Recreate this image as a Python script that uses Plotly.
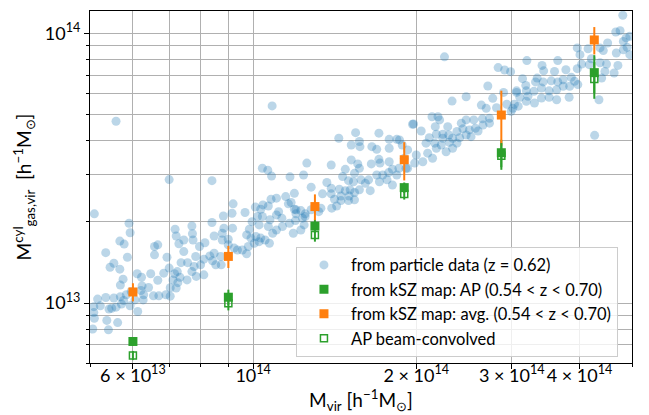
import numpy as np
import plotly.graph_objects as go

# ---- particle-data halos: log10 M_vir and log10 M_gas,vir^cyl  [h^-1 Msun] ----
log_mvir = [
13.707,13.771,13.773,13.754,13.762,13.728,13.768,13.743,13.736,13.754,13.760,13.755,13.786,13.794,13.795,13.793,
13.798,13.797,13.807,13.811,13.824,13.816,13.826,13.839,13.847,13.847,13.835,13.855,13.861,13.865,13.867,13.879,
13.878,13.852,13.858,13.841,13.818,13.824,13.818,13.856,13.858,13.863,13.872,13.713,13.728,13.743,13.755,13.766,
13.775,13.706,13.718,13.734,13.747,13.757,13.773,13.787,13.706,13.707,13.730,13.750,13.704,13.733,13.739,13.761,
13.782,13.845,13.860,13.872,13.747,13.845,
13.924,13.985,13.945,13.961,13.924,13.887,13.963,14.004,14.014,14.018,14.028,14.043,14.060,14.076,14.065,14.079,
14.088,14.096,14.047,14.043,14.053,14.031,14.017,14.008,13.998,14.011,14.028,14.036,14.043,14.054,14.067,14.078,
14.091,14.074,14.088,13.993,13.988,13.996,14.005,14.014,14.022,14.030,14.011,14.002,13.991,13.988,13.971,13.965,
13.980,13.946,13.962,13.943,13.928,13.943,13.954,13.954,13.911,13.889,13.888,13.901,13.894,13.909,13.920,13.925,
13.940,13.941,13.891,13.903,13.887,13.895,13.909,13.931,13.928,14.035,14.017,14.027,14.034,14.068,14.093,14.099,
14.107,14.033,
14.158,14.189,14.181,14.196,14.197,14.232,14.251,14.265,14.219,14.228,14.251,14.275,14.144,14.181,14.193,14.196,
14.218,14.232,14.234,14.251,14.257,14.269,14.282,14.170,14.187,14.165,14.176,14.185,14.199,14.207,14.213,14.228,
14.239,14.250,14.265,14.233,14.247,14.257,14.136,14.144,14.159,14.170,14.179,14.187,14.196,14.216,14.128,14.144,
14.162,14.177,14.176,14.187,14.150,14.162,14.154,14.145,14.070,14.076,14.079,14.096,14.107,14.125,14.121,14.094,
14.294,14.353,
14.452,14.464,14.475,14.433,14.462,14.486,14.393,14.367,14.421,14.442,14.449,14.468,14.482,14.430,14.479,14.330,
14.341,14.344,14.296,14.310,14.336,14.359,14.384,14.393,14.407,14.423,14.436,14.424,14.436,14.410,14.399,14.387,
14.376,14.361,14.350,14.338,14.325,14.350,14.368,14.381,14.393,14.402,14.415,14.319,14.335,14.347,14.362,14.376,
14.368,14.356,14.338,14.322,14.331,14.313,14.298,14.301,14.285,14.279,14.285,14.270,
14.682,14.677,14.669,14.688,14.695,14.683,14.654,14.640,14.646,14.618,14.598,14.670,14.683,14.690,14.695,14.562,
14.505,14.533,14.536,14.556,14.577,14.603,14.606,14.624,14.620,14.598,14.652,14.673,14.649,14.666,14.643,14.497,
14.524,14.503,14.521,14.535,14.550,14.562,14.572,14.587,14.593,14.599,14.584,14.572,14.560,14.546,14.532,14.518,
14.504,14.486,14.492,14.507,14.519,14.532,14.546,14.560,14.583,14.489,14.476,14.504,14.638,14.630,14.640,
]
log_mgas = [
13.331,13.296,13.261,13.230,13.219,13.187,13.170,13.148,13.133,13.126,13.089,13.067,13.109,13.096,13.064,13.047,
13.031,13.012,13.058,13.109,13.085,13.027,13.027,13.031,13.057,13.026,13.111,13.109,13.076,13.096,13.150,13.150,
13.086,13.086,13.056,13.170,13.210,13.216,13.179,13.274,13.249,13.220,13.234,13.015,13.021,13.019,13.024,13.031,
13.043,12.987,12.990,12.978,12.985,12.997,12.990,12.969,12.965,12.944,12.936,12.928,12.904,12.901,12.981,13.010,
13.012,13.130,13.117,13.191,13.674,13.458,
13.454,13.336,13.323,13.333,13.299,13.286,13.368,13.356,13.348,13.364,13.360,13.389,13.395,13.407,13.368,13.346,
13.343,13.331,13.339,13.327,13.315,13.309,13.321,13.321,13.302,13.290,13.284,13.259,13.271,13.284,13.296,13.306,
13.315,13.259,13.271,13.274,13.253,13.241,13.247,13.241,13.234,13.222,13.228,13.222,13.210,13.183,13.197,13.204,
13.197,13.278,13.278,13.259,13.249,13.234,13.237,13.216,13.224,13.234,13.257,13.210,13.173,13.163,13.175,13.157,
13.173,13.142,13.136,13.142,13.117,13.099,13.105,13.142,13.185,13.731,13.500,13.493,13.471,13.468,13.475,13.519,
13.430,13.385,
13.611,13.632,13.586,13.599,13.580,13.630,13.607,13.607,13.580,13.570,13.574,13.586,13.512,13.531,13.516,13.500,
13.516,13.533,13.519,13.524,13.496,13.500,13.500,13.496,13.481,13.469,13.454,13.450,13.457,13.444,13.457,13.475,
13.475,13.484,13.475,13.450,13.457,13.438,13.447,13.426,13.422,13.417,13.420,13.410,13.420,13.417,13.405,13.405,
13.397,13.397,13.380,13.383,13.385,13.380,13.360,13.352,13.373,13.348,13.331,13.321,13.346,13.352,13.339,13.290,
13.663,13.913,
13.873,13.864,13.858,13.805,13.781,13.781,13.765,13.749,13.734,13.759,13.724,13.737,13.737,13.722,13.722,13.691,
13.691,13.679,13.664,13.638,13.654,13.654,13.667,13.679,13.679,13.683,13.685,13.660,13.667,13.648,13.642,13.646,
13.636,13.623,13.626,13.626,13.613,13.611,13.611,13.613,13.623,13.617,13.638,13.593,13.593,13.586,13.596,13.593,
13.574,13.561,13.574,13.556,13.537,13.524,13.519,13.549,13.568,13.537,13.500,13.605,
14.067,14.010,14.005,13.983,13.989,13.970,13.964,13.946,13.936,13.943,13.946,13.927,13.939,13.948,13.921,13.899,
13.899,13.881,13.861,13.859,13.865,13.921,13.886,13.906,13.884,13.869,13.886,13.881,13.859,13.853,13.834,13.832,
13.834,13.807,13.820,13.820,13.824,13.820,13.828,13.837,13.822,13.810,13.804,13.804,13.791,13.787,13.797,13.785,
13.787,13.787,13.763,13.767,13.742,13.760,13.763,13.754,13.763,13.730,13.711,13.748,13.754,13.622,13.891,
]

# ---- kSZ-map bins ----
bin_mvir = [6.0e13, 9.0e13, 1.30e14, 1.90e14, 2.87e14, 4.26e14]
avg_m = [1.10e13, 1.49e13, 2.28e13, 3.40e13, 4.98e13, 9.45e13]
avg_err = [0.085e13, 0.14e13, 0.25e13, 0.55e13, 1.15e13, 1.10e13]
ap_m = [0.721e13, 1.052e13, 1.93e13, 2.68e13, 3.61e13, 7.15e13]
ap_err = [0.027e13, 0.07e13, 0.11e13, 0.12e13, 0.42e13, 1.15e13]
apb_m = [0.640e13, 1.00e13, 1.79e13, 2.54e13, 3.52e13, 6.77e13]
apb_err = [0.025e13, 0.06e13, 0.10e13, 0.12e13, 0.40e13, 1.05e13]

# ---- axis ticks ----
x_tickvals = [6e13, 1e14, 2e14, 3e14, 4e14]
x_ticktext = ["6 × 10<sup>13</sup>", "10<sup>14</sup>", "2 × 10<sup>14</sup>", "3 × 10<sup>14</sup>", "4 × 10<sup>14</sup>"]
x_minor = [5e13, 7e13, 8e13, 9e13, 5e14]
y_tickvals = [1e13, 1e14]
y_ticktext = ["10<sup>13</sup>", "10<sup>14</sup>"]
y_minor = [6e12, 7e12, 8e12, 9e12, 2e13, 3e13, 4e13, 5e13, 6e13, 7e13, 8e13, 9e13]

BLUE, ORANGE, GREEN = "#1f77b4", "#ff7f0e", "#2ca02c"
FONT = "Lato"

fig = go.Figure()
fig.add_trace(go.Scatter(
    x=10 ** np.array(log_mvir), y=10 ** np.array(log_mgas), mode="markers",
    marker=dict(color=BLUE, size=9, opacity=0.3, line=dict(width=0)),
    name="from particle data (z = 0.62)"))
fig.add_trace(go.Scatter(
    x=bin_mvir, y=ap_m, mode="markers",
    marker=dict(color=GREEN, size=9, symbol="square"),
    error_y=dict(type="data", array=ap_err, color=GREEN, thickness=2, width=0),
    name="from kSZ map: AP (0.54 < z < 0.70)"))
fig.add_trace(go.Scatter(
    x=bin_mvir, y=avg_m, mode="markers",
    marker=dict(color=ORANGE, size=9, symbol="square"),
    error_y=dict(type="data", array=avg_err, color=ORANGE, thickness=2, width=0),
    name="from kSZ map: avg. (0.54 < z < 0.70)"))
fig.add_trace(go.Scatter(
    x=bin_mvir, y=apb_m, mode="markers",
    marker=dict(color=GREEN, size=7, symbol="square-open", line=dict(width=1.5, color=GREEN)),
    error_y=dict(type="data", array=apb_err, color=GREEN, thickness=2, width=0),
    name="AP beam-convolved"))

axis_common = dict(
    type="log", showline=True, linecolor="black", linewidth=1.2, mirror=True,
    ticks="outside", ticklen=5, tickcolor="black", tickwidth=1,
    showgrid=True, gridcolor="#b0b0b0", gridwidth=1, zeroline=False, automargin=False,
    tickfont=dict(family=FONT, size=18, color="black"),
)
fig.update_xaxes(
    **axis_common, range=[np.log10(5e13), np.log10(5e14)],
    tickmode="array", tickvals=x_tickvals, ticktext=x_ticktext, ticklabelstandoff=-9,
    minor=dict(tickmode="array", tickvals=x_minor, ticklen=3, tickcolor="black",
               showgrid=True, gridcolor="#b0b0b0", gridwidth=1),
    title=dict(text="M<sub>vir</sub> [h<sup>−1</sup>M<sub>⊙</sub>]", font=dict(family=FONT, size=19, color="black"),
               standoff=0),
)
fig.update_yaxes(
    **axis_common, range=[np.log10(6.0e12), np.log10(1.21e14)],
    tickmode="array", tickvals=y_tickvals, ticktext=y_ticktext,
    minor=dict(tickmode="array", tickvals=y_minor, ticklen=3, tickcolor="black",
               showgrid=True, gridcolor="#b0b0b0", gridwidth=1),
    title=dict(text="M<sup>cyl</sup><sub>gas,vir</sub>  [h<sup>−1</sup>M<sub>⊙</sub>]",
               font=dict(family=FONT, size=19, color="black"), standoff=8),
)
fig.update_layout(
    width=649, height=415,
    margin=dict(l=90, r=17, t=11, b=52),
    plot_bgcolor="white", paper_bgcolor="white",
    font=dict(family=FONT, size=16, color="black"),
    legend=dict(x=0.38, y=0.018, xanchor="left", yanchor="bottom",
                bgcolor="rgba(255,255,255,0.8)", bordercolor="#cccccc", borderwidth=1,
                font=dict(family=FONT, size=16.5, color="black"), itemwidth=44),
    showlegend=True,
)
fig.write_html("out.html")
